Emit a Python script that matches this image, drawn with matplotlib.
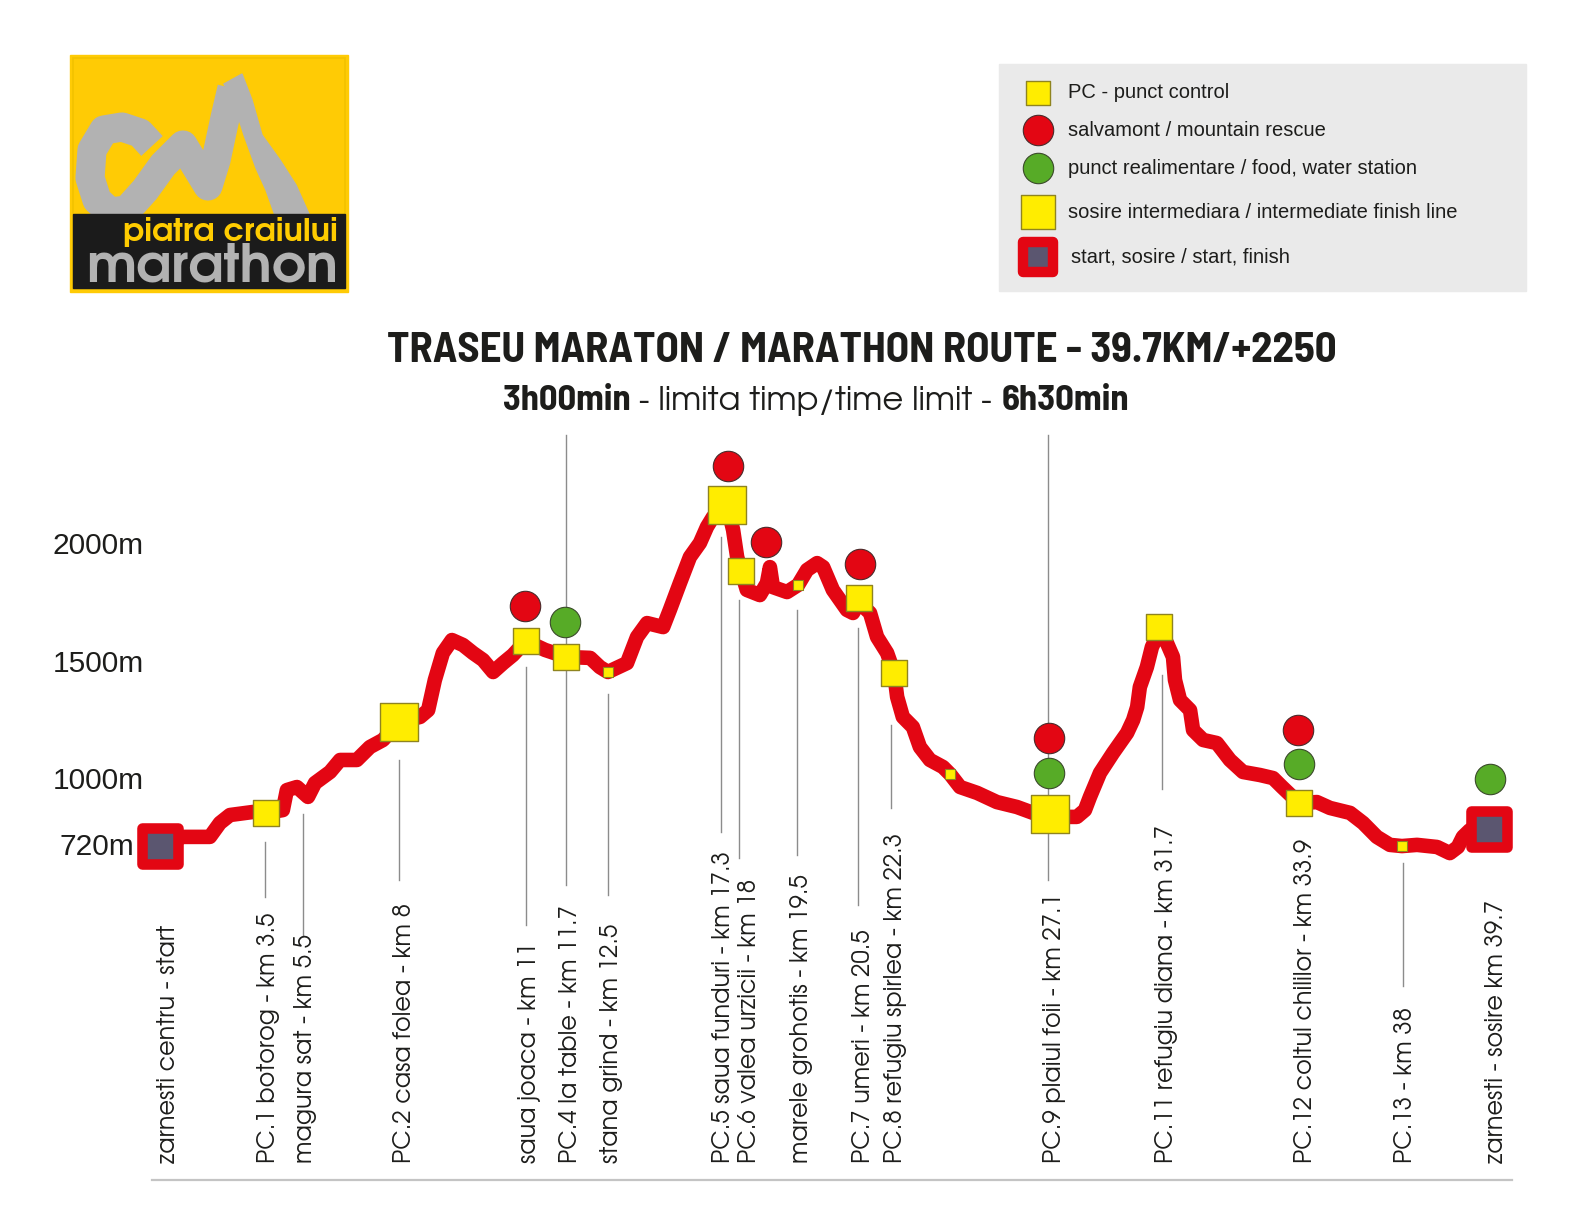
import numpy as np
import matplotlib
matplotlib.use('Agg')
import matplotlib.pyplot as plt
from matplotlib.markers import MarkerStyle
from matplotlib.patches import Rectangle, Polygon

W, H = 1584, 1224

# --- elevation profile: position along chart (km) / elevation (m) ---
prof_km = [0.00, 0.69, 1.49, 1.79, 2.09, 2.78, 3.17, 3.67, 3.79, 4.09, 4.42, 4.63, 5.08, 5.38,
           5.88, 6.27, 6.66, 7.14, 7.77, 8.01, 8.21, 8.45, 8.72, 9.05, 9.35, 9.65, 9.95, 10.25,
           10.54, 10.93, 11.50, 12.13, 12.85, 13.14, 13.38, 13.95, 14.25, 14.55, 15.03, 15.23,
           15.53, 15.83, 16.13, 16.34, 16.52, 16.94, 17.12, 17.24, 17.36, 17.53, 17.92, 18.13,
           18.22, 18.31, 18.73, 19.06, 19.33, 19.63, 19.81, 20.10, 20.52, 20.70, 20.88, 21.21,
           21.42, 21.72, 21.93, 22.02, 22.19, 22.49, 22.70, 23.00, 23.39, 23.60, 23.90, 24.41,
           25.00, 25.60, 26.08, 26.59, 27.39, 27.63, 27.78, 28.08, 28.47, 28.89, 29.07, 29.19,
           29.27, 29.48, 29.63, 29.84, 30.08, 30.26, 30.32, 30.47, 30.77, 30.86, 31.16, 31.57,
           31.96, 32.35, 32.86, 33.25, 33.52, 34.02, 34.56, 34.95, 35.55, 35.94, 36.35, 36.74,
           37.10, 37.55, 38.15, 38.53, 38.77, 38.92, 39.13, 39.70]
prof_ele = [729, 763, 763, 822, 856, 869, 865, 877, 962, 975, 933, 992, 1039, 1090,
            1090, 1145, 1175, 1251, 1273, 1302, 1430, 1545, 1600, 1579, 1545, 1515, 1464, 1502,
            1536, 1596, 1558, 1528, 1524, 1485, 1464, 1502, 1613, 1672, 1655, 1728,
            1842, 1953, 2013, 2081, 2123, 2174, 2068, 1953, 1893, 1813, 1791, 1842,
            1910, 1825, 1804, 1834, 1898, 1927, 1910, 1813, 1728, 1715, 1760, 1715,
            1613, 1545, 1460, 1358, 1273, 1230, 1145, 1090, 1060, 1030, 975, 950,
            911, 890, 865, 848, 848, 877, 933, 1035, 1120, 1205, 1260, 1315,
            1400, 1485, 1570, 1634, 1587, 1528, 1430, 1345, 1302, 1217, 1175, 1162,
            1090, 1039, 1026, 1013, 975, 907, 911, 886, 865, 822, 763, 729,
            724, 729, 720, 694, 720, 763, 792, 797]

# --- markers ---
pc_km = [3.17, 10.93, 12.13, 17.36, 20.88, 21.93, 29.84, 34.02]
pc_ele = [865, 1596, 1528, 1893, 1779, 1460, 1655, 907]
big_km = [7.14, 16.94, 26.59]
big_ele = [1251, 2174, 860]
small_km = [13.38, 19.06, 23.60, 37.10]
small_ele = [1464, 1834, 1030, 724]
rescue_km = [10.90, 16.97, 18.10, 20.91, 26.56, 34.00]
rescue_ele = [1745, 2340, 2017, 1923, 1183, 1217]
food_km = [12.10, 26.56, 34.02, 39.73]
food_ele = [1677, 1035, 1073, 1009]
start_km = [0.0, 39.70]
start_ele = [724, 797]

# --- labels under the profile ---
labels = ['zarnesti centru - start', 'PC.1 botorog - km 3.5', 'magura sat - km 5.5',
          'PC.2 casa folea - km 8', 'saua joaca - km 11', 'PC.4 la table - km 11.7',
          'stana grind - km 12.5', 'PC.5 saua funduri - km 17.3', 'PC.6 valea urzicii - km 18',
          'marele grohotis - km 19.5', 'PC.7 umeri - km 20.5', 'PC.8 refugiu spirlea - km 22.3',
          'PC.9 plaiul foii - km 27.1', 'PC.11 refugiu diana - km 31.7',
          'PC.12 coltul chililor - km 33.9', 'PC.13 - km 38', 'zarnesti - sosire km 39.7']
label_km = [0.15, 3.14, 4.27, 7.20, 10.96, 12.16, 13.41, 16.73, 17.51, 19.06, 20.94,
            21.87, 26.62, 29.99, 34.14, 37.13, 39.82]
lead_km = [3.14, 4.27, 7.14, 10.93, 12.13, 13.38, 16.76, 17.30, 19.03, 20.85, 21.84,
           26.53, 29.93, 37.13]
lead_top = [842, 814, 760, 667, 435, 694, 537, 600, 610, 628, 725, 435, 675, 863]
lead_bot = [897, 935, 880, 925, 885, 895, 832, 858, 855, 905, 808, 880, 789, 986]

yticks = [720, 1000, 1500, 2000]
ytick_labels = ['720m', '1000m', '1500m', '2000m']

RED = '#E30613'
YEL = '#FFED00'
GRN = '#57AB27'
DARK = '#1D1D1B'
GOTHIC = ['TeX Gyre Adventor', 'Lato', 'DejaVu Sans']
COND = dict(family=['Barlow Semi Condensed', 'Roboto Condensed', 'DejaVu Sans'],
            fontstretch='condensed', weight='bold')

# pixel mapping of the profile area
K = 33.476       # px per km
S = 0.2352       # px per m
def ele_at(py):
    return 720 + (847 - py) / S

fig = plt.figure(figsize=(W / 100, H / 100), dpi=100)
ax = fig.add_axes([0, 0, 1, 1])
ax.set_xlim(-160 / K, (W - 160) / K)
ax.set_ylim(ele_at(H), ele_at(0))
ax.axis('off')

ov = fig.add_axes([0, 0, 1, 1], zorder=5)
ov.set_xlim(0, W)
ov.set_ylim(H, 0)
ov.axis('off')
ov.patch.set_alpha(0)

fig.canvas.draw()
rend = fig.canvas.get_renderer()

def fit_width(t, target, horizontal=True):
    bb = t.get_window_extent(rend)
    size = bb.width if horizontal else bb.height
    t.set_fontsize(t.get_fontsize() * target / size)
    return t.get_fontsize()

# leader lines
for xk, t, b in zip(lead_km, lead_top, lead_bot):
    ax.plot([xk, xk], [ele_at(t), ele_at(b)], color='#8c8c8c', lw=1.0, zorder=1)

ax.plot(prof_km, prof_ele, color=RED, lw=10.5, solid_joinstyle='round',
        solid_capstyle='round', zorder=2)

ax.scatter(pc_km, pc_ele, marker='s', s=360, color=YEL, edgecolors='#8f8420', linewidths=1, zorder=4)
ax.scatter(big_km, big_ele, marker='s', s=720, color=YEL, edgecolors='#8f8420', linewidths=1, zorder=4)
ax.scatter(small_km, small_ele, marker='s', s=50, color=YEL, edgecolors='#8f8420', linewidths=0.8, zorder=4)
ax.scatter(rescue_km, rescue_ele, marker='o', s=480, color=RED, edgecolors='#4a2a2a', linewidths=0.8, zorder=4)
ax.scatter(food_km, food_ele, marker='o', s=480, color=GRN, edgecolors='#3a4a2a', linewidths=0.8, zorder=4)
ms_round = MarkerStyle('s', joinstyle='round')
ax.plot(start_km, start_ele, ls='none', marker=ms_round, markersize=26.3, markerfacecolor='#5B5670',
        markeredgecolor=RED, markeredgewidth=7.6, zorder=4)

# y labels
for v, lab in zip(yticks, ytick_labels):
    ax.text(-16 / K if v != 720 else -26 / K, v, lab, ha='right', va='center',
            fontsize=21.5, family=['Liberation Sans', 'DejaVu Sans'], color=DARK)

# rotated labels, size set from the longest one
probe = ax.text(0, 0, labels[13], rotation=90, fontsize=18, family=GOTHIC)
lab_size = fit_width(probe, 339, horizontal=False)
probe.remove()
for xk, lab in zip(label_km, labels):
    ax.text(xk + 3 / K, ele_at(1163), lab, rotation=90, ha='center', va='bottom',
            fontsize=lab_size, family=GOTHIC, color=DARK)

ov.plot([152, 1512], [1180, 1180], color='#c4c4c4', lw=1.6)

# title
tt = ov.text(862, 351, 'TRASEU MARATON / MARATHON ROUTE - 39.7KM/+2250', ha='center', va='center',
             fontsize=27, color=DARK, **COND)
fit_width(tt, 951)

parts = [('3h00min', COND, 128),
         (' - limita timp/time limit - ', dict(family=GOTHIC), 371),
         ('6h30min', COND, 128)]
x0 = 816 - 627 / 2
for s, kw, wd in parts:
    t = ov.text(x0, 410, s, ha='left', va='baseline', fontsize=24, color=DARK, **kw)
    fit_width(t, wd)
    x0 += wd

# legend
ov.add_patch(Rectangle((999, 64), 527, 227, color='#EAEAEA', zorder=0))
lx = 1038
ov.scatter([lx], [93], marker='s', s=280, color=YEL, edgecolors='#8f8420', linewidths=1)
ov.scatter([lx], [130], marker='o', s=480, color=RED, edgecolors='#4a2a2a', linewidths=0.8)
ov.scatter([lx], [168], marker='o', s=480, color=GRN, edgecolors='#3a4a2a', linewidths=0.8)
ov.scatter([lx], [212], marker='s', s=570, color=YEL, edgecolors='#8f8420', linewidths=1)
ov.plot([lx], [257], marker=ms_round, markersize=22, markerfacecolor='#5B5670',
        markeredgecolor=RED, markeredgewidth=7.5)
leg_txt = ['PC - punct control', 'salvamont / mountain rescue',
           'punct realimentare / food, water station',
           'sosire intermediara / intermediate finish line', 'start, sosire / start, finish']
for yy, s in zip([93, 130, 168, 212, 257], leg_txt):
    ov.text(1068 if yy != 257 else 1071, yy, s, ha='left', va='center', fontsize=14.5,
            family=['Liberation Sans', 'DejaVu Sans'], color=DARK)

# logo
ov.add_patch(Rectangle((70, 55), 278, 237, color='#FFCB05', zorder=1))
ov.add_patch(Rectangle((73, 58), 272, 231, fill=False, ec='#F2C200', lw=1.2, zorder=1))
brush_x = [152, 140, 122, 104, 92, 90, 97, 110, 127, 145, 163, 183, 197, 208, 216, 225, 232]
brush_y = [146, 133, 127, 130, 150, 178, 200, 212, 210, 190, 165, 145, 168, 186, 160, 118, 88]
ov.plot(brush_x, brush_y, color='#B2B2B2', lw=21, solid_joinstyle='round', solid_capstyle='butt', zorder=2)
ov.add_patch(Polygon([(224, 84), (242, 74), (252, 100), (262, 135), (280, 160), (296, 185),
                      (309, 214), (276, 218), (266, 190), (256, 168), (244, 135), (236, 110)],
                     closed=True, color='#B2B2B2', zorder=2))
ov.add_patch(Rectangle((73, 214), 272, 74, color='#1B1B1B', zorder=3))
tp = ov.text(338, 241, 'piatra craiului', ha='right', va='baseline', fontsize=26, weight='bold',
             family=GOTHIC, color='#FFCC00', zorder=4)
fit_width(tp, 215)
tm = ov.text(212, 282, 'marathon', ha='center', va='baseline', fontsize=33, weight='bold',
             family=GOTHIC, color='#B2B2B2', zorder=4)
fit_width(tm, 252)

fig.savefig('out.png', dpi=100)
